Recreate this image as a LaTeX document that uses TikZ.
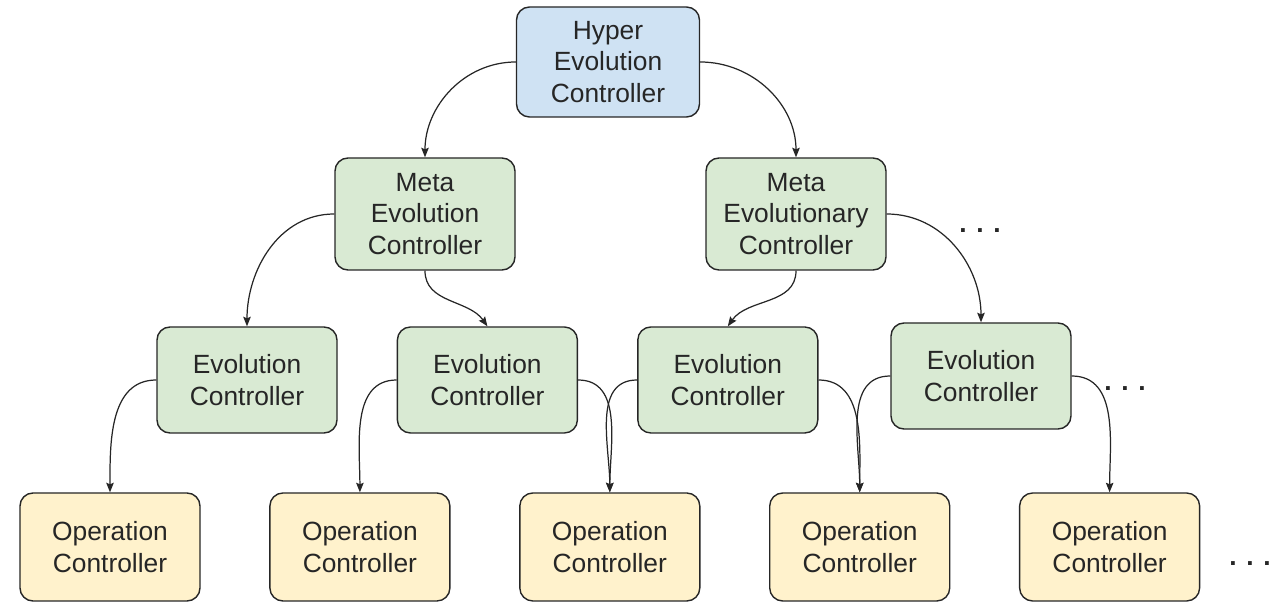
\documentclass[tikz,border=0pt]{standalone}
\usepackage{fontspec}
\setsansfont{Liberation Sans}
\usetikzlibrary{arrows.meta, positioning}
\definecolor{linedark}{HTML}{262626}
\definecolor{hyperblue}{HTML}{CFE2F3}
\definecolor{metagreen}{HTML}{D9EAD3}
\definecolor{opyellow}{HTML}{FFF2CC}

\begin{document}
\begin{tikzpicture}[font=\sffamily\fontsize{15}{18}\selectfont, >={Stealth[length=1.9mm, width=1.5mm, inset=0.3mm]}]
  % Box Styles
  \tikzstyle{ctrlbox} = [draw=linedark, rounded corners=2.6mm, minimum width=3.6cm,
    minimum height=2.14cm, align=center, line width=0.8pt, text=black!85]
  \tikzstyle{link} = [->, line width=0.7pt, draw=linedark]
  \tikzstyle{more} = [text=black!85, anchor=base, font=\sffamily\bfseries\fontsize{15}{18}\selectfont]

  \useasboundingbox (0,0) rectangle (25.68,12.04);

  % Top level
  \node[ctrlbox, fill=hyperblue, minimum width=3.66cm, minimum height=2.2cm] (hyper) at (12.16, 10.80)
    {Hyper\\Evolution\\Controller};

  % Meta level
  \node[ctrlbox, fill=metagreen, minimum height=2.24cm] (meta1) at (8.50, 7.76)
    {Meta\\Evolution\\Controller};
  \node[ctrlbox, fill=metagreen, minimum height=2.24cm] (meta2) at (15.92, 7.76)
    {Meta\\Evolutionary\\Controller};

  % Evolution level
  \node[ctrlbox, fill=metagreen, minimum height=2.12cm] (evo1) at (4.94, 4.44)
    {Evolution\\Controller};
  \node[ctrlbox, fill=metagreen, minimum height=2.12cm, right=1.18cm of evo1] (evo2)
    {Evolution\\Controller};
  \node[ctrlbox, fill=metagreen, minimum height=2.12cm, right=1.18cm of evo2] (evo3)
    {Evolution\\Controller};
  \node[ctrlbox, fill=metagreen, minimum height=2.12cm] (evo4) at (19.62, 4.52)
    {Evolution\\Controller};

  % Operation level
  \node[ctrlbox, fill=opyellow, minimum height=2.16cm] (op1) at (2.20, 1.10)
    {Operation\\Controller};
  \node[ctrlbox, fill=opyellow, minimum height=2.16cm, right=1.37cm of op1] (op2)
    {Operation\\Controller};
  \node[ctrlbox, fill=opyellow, minimum height=2.16cm, right=1.37cm of op2] (op3)
    {Operation\\Controller};
  \node[ctrlbox, fill=opyellow, minimum height=2.16cm, right=1.37cm of op3] (op4)
    {Operation\\Controller};
  \node[ctrlbox, fill=opyellow, minimum height=2.16cm, right=1.37cm of op4] (op5)
    {Operation\\Controller};

  % Continuation dots
  \node[more] (more1) at (19.60, 7.38) {. . .};
  \node[more] (more2) at (22.50, 4.22) {. . .};
  \node[more] (more3) at (25.00, 0.72) {. . .};

  % Connecting Arrows
  \draw[link] (hyper.west) to[out=180, in=90] (meta1.north);
  \draw[link] (hyper.east) to[out=0, in=90] (meta2.north);

  \draw[link] (meta1.west) to[out=180, in=90] (evo1.north);
  \draw[link] (meta1.south) to[out=-90, in=125] (evo2.north);
  \draw[link] (meta2.south) to[out=-90, in=55] (evo3.north);
  \draw[link] (meta2.east) to[out=0, in=90] (evo4.north);

  \draw[link] (evo1.west) to[out=180, in=90] (op1.north);
  \draw[link] (evo2.west) to[out=180, in=90] (op2.north);
  \draw[link] (evo2.east) to[out=0, in=90] (op3.north);
  \draw[link] (evo3.west) to[out=180, in=90] (op3.north);
  \draw[link] (evo3.east) to[out=0, in=90] (op4.north);
  \draw[link] (evo4.west) to[out=180, in=90] (op4.north);
  \draw[link] (evo4.east) to[out=0, in=90] (op5.north);

\end{tikzpicture}
\end{document}
